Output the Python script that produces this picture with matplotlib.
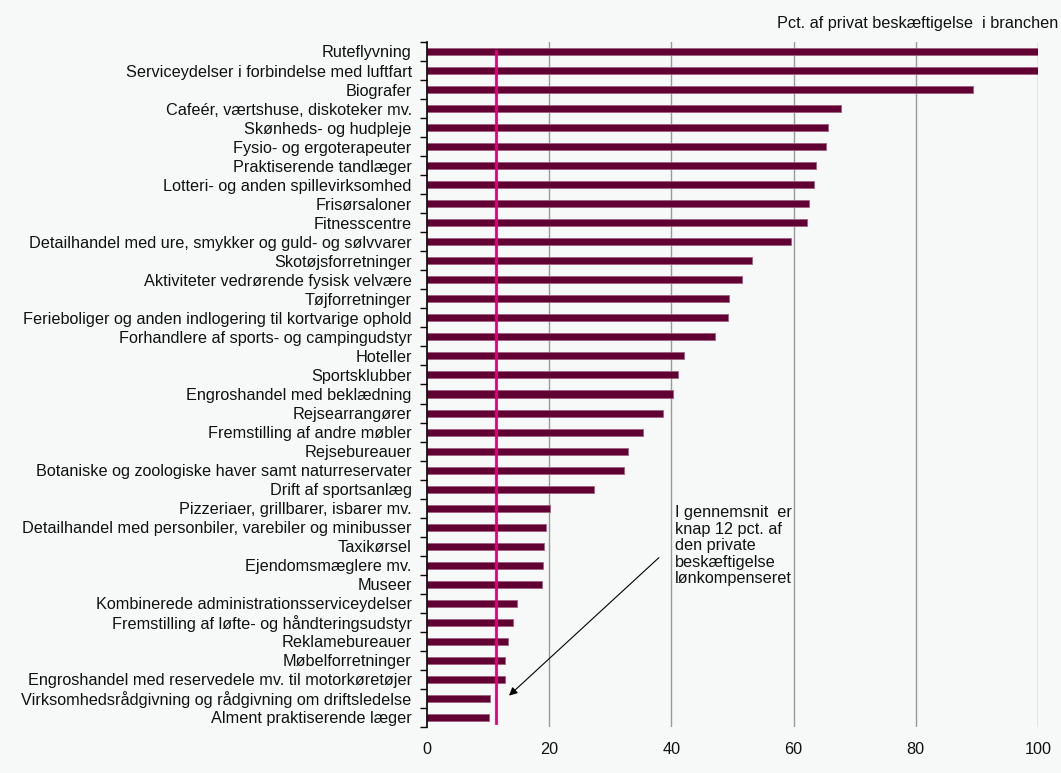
import numpy as np
import matplotlib.pyplot as plt

plt.rcParams['font.family'] = ['Liberation Sans', 'DejaVu Sans']

# Data (pct. of private employment in the industry)
brancher = [
    'Ruteflyvning',
    'Serviceydelser i forbindelse med luftfart',
    'Biografer',
    'Cafeér, værtshuse, diskoteker mv.',
    'Skønheds- og hudpleje',
    'Fysio- og ergoterapeuter',
    'Praktiserende tandlæger',
    'Lotteri- og anden spillevirksomhed',
    'Frisørsaloner',
    'Fitnesscentre',
    'Detailhandel med ure, smykker og guld- og sølvvarer',
    'Skotøjsforretninger',
    'Aktiviteter vedrørende fysisk velvære',
    'Tøjforretninger',
    'Ferieboliger og anden indlogering til kortvarige ophold',
    'Forhandlere af sports- og campingudstyr',
    'Hoteller',
    'Sportsklubber',
    'Engroshandel med beklædning',
    'Rejsearrangører',
    'Fremstilling af andre møbler',
    'Rejsebureauer',
    'Botaniske og zoologiske haver samt naturreservater',
    'Drift af sportsanlæg',
    'Pizzeriaer, grillbarer, isbarer mv.',
    'Detailhandel med personbiler, varebiler og minibusser',
    'Taxikørsel',
    'Ejendomsmæglere mv.',
    'Museer',
    'Kombinerede administrationsserviceydelser',
    'Fremstilling af løfte- og håndteringsudstyr',
    'Reklamebureauer',
    'Møbelforretninger',
    'Engroshandel med reservedele mv. til motorkøretøjer',
    'Virksomhedsrådgivning og rådgivning om driftsledelse',
    'Alment praktiserende læger',
]
andel = [100.0, 100.0, 89.4, 67.8, 65.6, 65.3, 63.6, 63.3, 62.5, 62.2,
         59.5, 53.2, 51.5, 49.4, 49.2, 47.1, 42.1, 41.1, 40.3, 38.6,
         35.4, 32.9, 32.3, 27.3, 20.1, 19.5, 19.2, 19.0, 18.8, 14.7,
         14.1, 13.2, 12.7, 12.7, 10.3, 10.1]
gennemsnit = 11.3
xticks = [0, 20, 40, 60, 80, 100]

fs = 11.7
bg = '#f7f9f9'
fig = plt.figure(figsize=(10.61, 7.73), dpi=100, facecolor=bg)
ax = fig.add_axes([0.4024, 0.0595, 0.9783 - 0.4024, 0.9457 - 0.0595])
ax.set_facecolor(bg)

y = np.arange(len(brancher))
ax.barh(y, andel, height=0.37, color='#600033', edgecolor='#a0607f', linewidth=0.6, zorder=2)

# average line
ax.plot([gennemsnit, gennemsnit], [0, len(brancher) - 0.7], color='#e5007e', lw=2, zorder=3)

ax.set_xlim(0, 100)
ax.set_ylim(len(brancher) - 0.5, -0.5)
ax.set_xticks(xticks)
ax.set_yticks(y)
ax.set_yticklabels(brancher, fontsize=fs, color='#111111')
ax.set_yticks(np.arange(len(brancher) + 1) - 0.5, minor=True)
ax.tick_params(axis='y', which='major', length=0, pad=11)
ax.tick_params(axis='y', which='minor', length=5, width=1, color='black')
ax.tick_params(axis='x', length=0, labelsize=fs, pad=11, labelcolor='#111111')

for g in xticks[1:]:
    ax.axvline(g, color='#9a9a9a', lw=1, zorder=1)

for s in ['top', 'right', 'bottom']:
    ax.spines[s].set_visible(False)
ax.spines['left'].set_color('black')
ax.spines['left'].set_linewidth(1.2)

fig.text(0.997, 0.969, 'Pct. af privat beskæftigelse  i branchen', ha='right', va='center',
         fontsize=fs, color='#111111')

ax.text(40.6, 23.85, 'I gennemsnit  er\nknap 12 pct. af\nden private\nbeskæftigelse\nlønkompenseret',
        ha='left', va='top', fontsize=fs, linespacing=1.12, color='#111111', zorder=4)
ax.annotate('', xy=(13.1, 33.95), xytext=(38.3, 26.5),
            arrowprops=dict(arrowstyle='-|>', color='black', lw=0.8, mutation_scale=12), zorder=4)

fig.savefig('out.png', dpi=100, facecolor=bg)
